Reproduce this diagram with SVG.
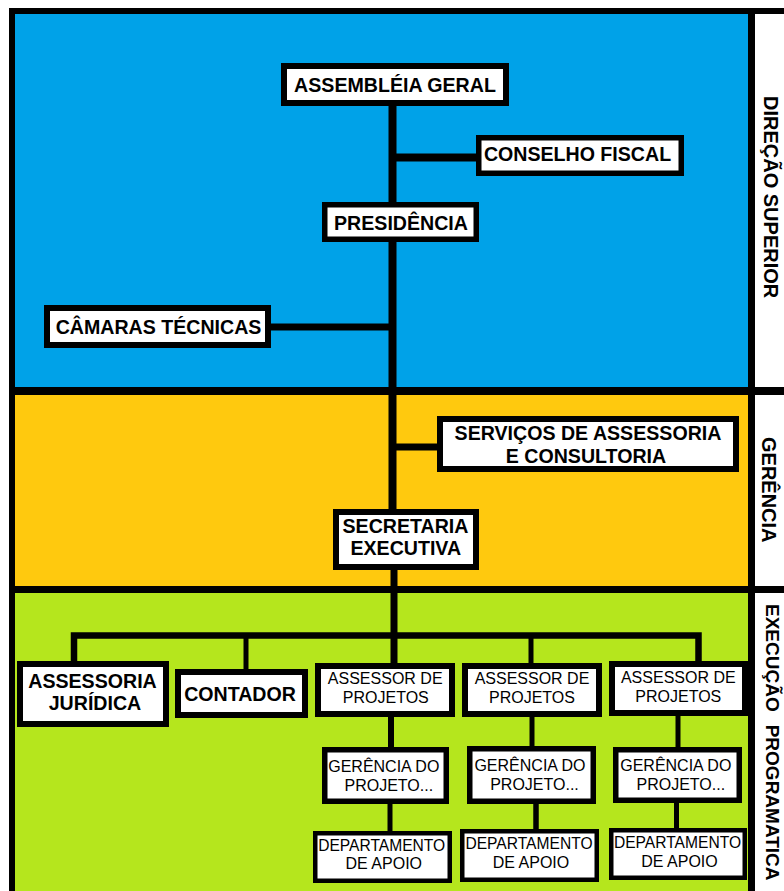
<svg xmlns="http://www.w3.org/2000/svg" width="784" height="891" viewBox="0 0 784 891">
<style>
.box{fill:#fff;stroke:#000}
.b{font-family:"Liberation Sans",Arial,sans-serif;font-weight:bold;font-size:19.6px;fill:#000;text-anchor:middle}
.r{font-family:"Liberation Sans",Arial,sans-serif;font-weight:normal;font-size:16px;fill:#000;text-anchor:middle}
.lbl{font-family:"Liberation Sans",Arial,sans-serif;font-weight:bold;font-size:20px;fill:#000}
.ln{stroke:#000;fill:none;stroke-linecap:butt}
</style>
<rect x="0" y="0" width="784" height="891" fill="#fff"/>
<g id="frame">
<rect x="9" y="8" width="775" height="883" fill="#000"/>
<rect x="15" y="14" width="733" height="373" fill="#00A2E8"/>
<rect x="15" y="395" width="733" height="191" fill="#FFC90E"/>
<rect x="15" y="593" width="733" height="298" fill="#B5E61D"/>
<rect x="755" y="14" width="29" height="373" fill="#fff"/>
<rect x="755" y="395" width="29" height="191" fill="#fff"/>
<rect x="755" y="593" width="29" height="298" fill="#fff"/>
</g>
<g id="section-labels">
<text class="lbl" transform="translate(764,96) rotate(90)">DIREÇÃO SUPERIOR</text>
<text class="lbl" transform="translate(762,437) rotate(90)">GERÊNCIA</text>
<text class="lbl" transform="translate(766,604) rotate(90)" style="font-size:19px">EXECUÇÃO<tspan dx="13">PROGRAMATICA</tspan></text>
</g>
<g id="connectors">
<line class="ln" x1="392.5" y1="104" x2="392.5" y2="511" stroke-width="8"/>
<line class="ln" x1="392" y1="157.5" x2="478" y2="157.5" stroke-width="8"/>
<line class="ln" x1="269" y1="327" x2="393" y2="327" stroke-width="7"/>
<line class="ln" x1="392" y1="447" x2="439" y2="447" stroke-width="7"/>
<line class="ln" x1="394" y1="568" x2="394" y2="665" stroke-width="7"/>
<path class="ln" d="M74,663 V635.5 H698.5 V663" stroke-width="6.5" stroke-linejoin="miter"/>
<line class="ln" x1="246" y1="635" x2="246" y2="671" stroke-width="5"/>
<line class="ln" x1="531" y1="635" x2="531" y2="665" stroke-width="5"/>
<line class="ln" x1="391" y1="715" x2="391" y2="749" stroke-width="6"/>
<line class="ln" x1="532" y1="715" x2="532" y2="748" stroke-width="5"/>
<line class="ln" x1="678" y1="714" x2="678" y2="749" stroke-width="5"/>
<line class="ln" x1="390" y1="802" x2="390" y2="833" stroke-width="5"/>
<line class="ln" x1="536" y1="802" x2="536" y2="831" stroke-width="5.5"/>
<line class="ln" x1="676.5" y1="801" x2="676.5" y2="830" stroke-width="5"/>
</g>
<g id="assembleia-geral">
<rect class="box" x="284" y="66" width="222" height="37" stroke-width="6"/>
<text class="b" x="395" y="92">ASSEMBLÉIA GERAL</text>
</g>
<g id="conselho-fiscal">
<rect class="box" x="478.75" y="137.75" width="202.5" height="35.5" stroke-width="5.5"/>
<text class="b" x="577.5" y="161">CONSELHO FISCAL</text>
</g>
<g id="presidencia">
<rect class="box" x="324.75" y="204.75" width="151.5" height="34.5" stroke-width="5.5"/>
<text class="b" x="401" y="230">PRESIDÊNCIA</text>
</g>
<g id="camaras-tecnicas">
<rect class="box" x="47" y="308" width="221" height="37" stroke-width="6"/>
<text class="b" x="158.5" y="334">CÂMARAS TÉCNICAS</text>
</g>
<g id="servicos-assessoria">
<rect class="box" x="440" y="419" width="296" height="50" stroke-width="6"/>
<text class="b" x="588" y="440">SERVIÇOS DE ASSESSORIA</text>
<text class="b" x="586" y="462.5">E CONSULTORIA</text>
</g>
<g id="secretaria-executiva">
<rect class="box" x="336" y="512" width="140" height="55" stroke-width="6"/>
<text class="b" x="405.5" y="532.5">SECRETARIA</text>
<text class="b" x="405.8" y="555">EXECUTIVA</text>
</g>
<g id="assessoria-juridica">
<rect class="box" x="20" y="664" width="146" height="60" stroke-width="6"/>
<text class="b" x="92.5" y="687.5">ASSESSORIA</text>
<text class="b" x="95" y="710">JURÍDICA</text>
</g>
<g id="contador">
<rect class="box" x="178" y="672" width="127" height="43" stroke-width="6"/>
<text class="b" x="240" y="700.7">CONTADOR</text>
</g>
<g id="assessor-projetos-1">
<rect class="box" x="318" y="666" width="134" height="48" stroke-width="6"/>
<text class="r" x="385.2" y="684.3">ASSESSOR DE</text>
<text class="r" x="385.8" y="703.3">PROJETOS</text>
</g>
<g id="assessor-projetos-2">
<rect class="box" x="465" y="666" width="134" height="48" stroke-width="6"/>
<text class="r" x="532" y="684.3">ASSESSOR DE</text>
<text class="r" x="532" y="703.3">PROJETOS</text>
</g>
<g id="assessor-projetos-3">
<rect class="box" x="612" y="664" width="133" height="49" stroke-width="6"/>
<text class="r" x="678.3" y="682.7">ASSESSOR DE</text>
<text class="r" x="678.3" y="701.7">PROJETOS</text>
</g>
<g id="gerencia-projeto-1">
<rect class="box" x="324.75" y="749.75" width="121.5" height="51.5" stroke-width="5.5"/>
<text class="r" x="383.8" y="771.7">GERÊNCIA DO</text>
<text class="r" x="388.8" y="790.7">PROJETO...</text>
</g>
<g id="gerencia-projeto-2">
<rect class="box" x="469.75" y="748.75" width="123.5" height="52.5" stroke-width="5.5"/>
<text class="r" x="530" y="771">GERÊNCIA DO</text>
<text class="r" x="534.5" y="790">PROJETO...</text>
</g>
<g id="gerencia-projeto-3">
<rect class="box" x="615.75" y="749.75" width="123.5" height="50.5" stroke-width="5.5"/>
<text class="r" x="675.8" y="771">GERÊNCIA DO</text>
<text class="r" x="680.8" y="790">PROJETO...</text>
</g>
<g id="departamento-apoio-1">
<rect class="box" x="315.25" y="833.25" width="134.5" height="47.5" stroke-width="4.5"/>
<text class="r" x="381.7" y="850.7" style="font-size:15.6px">DEPARTAMENTO</text>
<text class="r" x="383.8" y="869.3">DE APOIO</text>
</g>
<g id="departamento-apoio-2">
<rect class="box" x="462.25" y="831.25" width="134.5" height="48.5" stroke-width="4.5"/>
<text class="r" x="529" y="849.3" style="font-size:15.6px">DEPARTAMENTO</text>
<text class="r" x="531" y="868.3">DE APOIO</text>
</g>
<g id="departamento-apoio-3">
<rect class="box" x="611.25" y="830.25" width="133.5" height="47.5" stroke-width="4.5"/>
<text class="r" x="677.5" y="847.7" style="font-size:15.6px">DEPARTAMENTO</text>
<text class="r" x="679.5" y="866.7">DE APOIO</text>
</g>
</svg>
